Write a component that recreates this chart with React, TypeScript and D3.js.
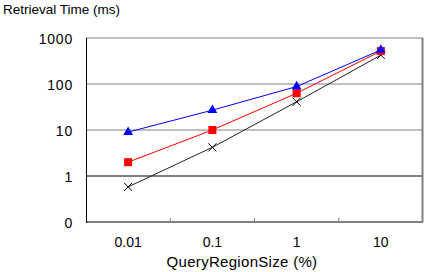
import React from 'react';
import * as d3 from 'd3';

const categories = ['0.01', '0.1', '1', '10'];
const seriesBlue = [9.0, 27, 88, 550];
const seriesRed = [2.0, 10, 63, 520];
const seriesBlack = [0.58, 4.2, 41, 425];
const yTicks = [0.1, 1, 10, 100, 1000];
const yTickLabels = ['0', '1', '10', '100', '1000'];

const width = 426;
const height = 272;
const margin = { top: 38, right: 3, bottom: 50, left: 86 };
const font = 'Arial, "Liberation Sans", sans-serif';

const App: React.FC = () => {
  const innerW = width - margin.left - margin.right;
  const innerH = height - margin.top - margin.bottom;

  const x = d3.scaleBand<string>().domain(categories).range([0, innerW]);
  const y = d3.scaleLog().domain([0.1, 1000]).range([innerH, 0]);
  const cx = (c: string) => (x(c) || 0) + x.bandwidth() / 2;

  const line = d3
    .line<number>()
    .x((_, i) => cx(categories[i]))
    .y((d) => y(d));

  const boundaries = categories.slice(1).map((c) => x(c) || 0);
  const tri = d3.symbol().type(d3.symbolTriangle).size(42)();

  return (
    <svg
      width={width}
      height={height}
      style={{ position: 'absolute', left: 0, top: 0, background: '#fff' }}
      fontFamily={font}
    >
      <text x={3} y={14} fontSize={13.5} fill="#000">
        Retrieval Time (ms)
      </text>
      <g transform={`translate(${margin.left},${margin.top})`}>
        {/* grid lines */}
        {yTicks.slice(1).map((t) => (
          <line
            key={t}
            x1={0}
            x2={innerW}
            y1={y(t)}
            y2={y(t)}
            stroke={t === 1 ? '#000' : '#808080'}
            strokeWidth={1}
          />
        ))}
        {/* right border */}
        <line x1={innerW - 0.5} x2={innerW - 0.5} y1={0} y2={innerH} stroke="#808080" strokeWidth={2} />
        {/* bottom axis */}
        <line x1={0} x2={innerW} y1={innerH} y2={innerH} stroke="#808080" strokeWidth={2} />
        {boundaries.map((b) => (
          <line key={b} x1={b} x2={b} y1={innerH - 4} y2={innerH} stroke="#808080" strokeWidth={1} />
        ))}
        {/* left axis */}
        <line x1={0.5} x2={0.5} y1={0} y2={innerH + 1} stroke="#000" strokeWidth={1} />

        {/* y tick labels */}
        {yTicks.map((t, i) => (
          <text
            key={t}
            x={-13}
            y={y(t) + 6}
            textAnchor="end"
            fontSize={14}
            letterSpacing={0.8}
            fill="#000"
          >
            {yTickLabels[i]}
          </text>
        ))}
        {/* x tick labels */}
        {categories.map((c) => (
          <text key={c} x={cx(c)} y={innerH + 25} textAnchor="middle" fontSize={14} fill="#000">
            {c}
          </text>
        ))}

        {/* series */}
        <path d={line(seriesBlack) || ''} fill="none" stroke="#222" strokeWidth={1} />
        <path d={line(seriesRed) || ''} fill="none" stroke="#ff0000" strokeWidth={1} />
        <path d={line(seriesBlue) || ''} fill="none" stroke="#0000ff" strokeWidth={1} />

        {seriesBlack.map((v, i) => {
          const px = cx(categories[i]);
          const py = y(v);
          return (
            <path
              key={'k' + i}
              d={`M${px - 4},${py - 4}L${px + 4},${py + 4}M${px - 4},${py + 4}L${px + 4},${py - 4}`}
              stroke="#000"
              strokeWidth={1}
            />
          );
        })}
        {seriesRed.map((v, i) => (
          <rect key={'r' + i} x={cx(categories[i]) - 4} y={y(v) - 4} width={8} height={8} fill="#ff0000" />
        ))}
        {seriesBlue.map((v, i) => (
          <path key={'b' + i} d={tri || ''} transform={`translate(${cx(categories[i])},${y(v)})`} fill="#0000ff" />
        ))}
      </g>
      <text x={242} y={267} textAnchor="middle" fontSize={15} letterSpacing={0.3} fill="#000">
        QueryRegionSize (%)
      </text>
    </svg>
  );
};

export default App;
